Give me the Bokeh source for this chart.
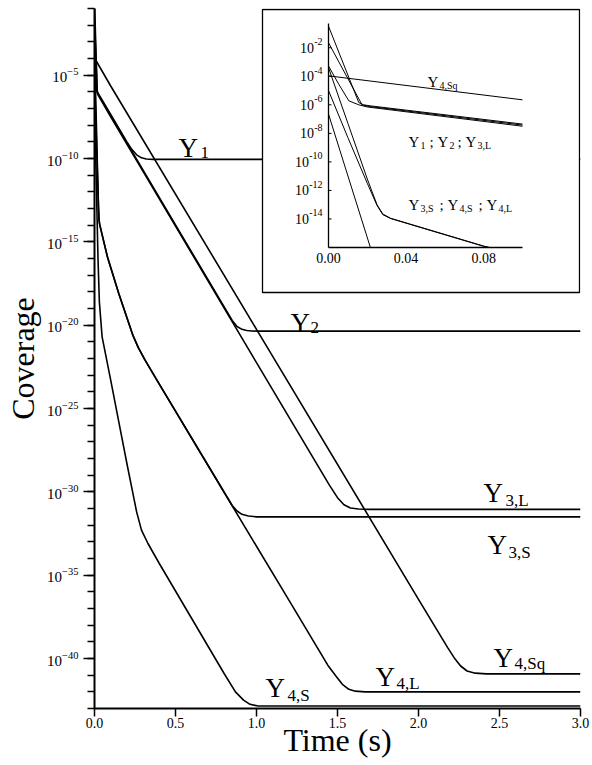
from bokeh.plotting import figure
from bokeh.models import FixedTicker, Label, Range1d, LogScale, LinearScale
from bokeh.embed import file_html
from bokeh.resources import INLINE

SERIF = "Liberation Serif"

# ---------------- data (time in s, log10 of coverage) ----------------
y1_t = [0.0, 0.0156, 0.018, 0.022, 0.1, 0.2, 0.23, 0.26, 0.29, 0.32, 0.36, 3.0]
y1_log = [-0.49, -5.84, -6.0, -6.08, -7.35, -9.0, -9.45, -9.78, -9.96, -10.03, -10.05, -10.05]

y2_t = [0.0, 0.0173, 0.021, 0.025, 0.1, 0.5, 0.85, 0.88, 0.91, 0.94, 0.97, 1.01, 3.0]
y2_log = [-1.65, -6.0, -6.12, -6.18, -7.42, -13.98, -19.72, -20.08, -20.25, -20.32, -20.35, -20.36, -20.36]

y3l_t = [0.0, 0.0053, 0.0105, 0.0156, 0.02, 0.1, 0.5, 1.0, 1.45, 1.5, 1.54, 1.58, 1.63, 1.7, 3.0]
y3l_log = [-3.28, -4.56, -5.72, -6.0, -6.15, -7.5, -14.05, -22.25, -29.6, -30.35, -30.78, -30.97, -31.03, -31.05, -31.05]

y3s_t = [0.0, 0.01, 0.02, 0.025, 0.028, 0.032, 0.08, 0.15, 0.237, 0.27, 0.31, 0.381, 0.6, 0.85, 0.88, 0.91, 0.95, 1.0, 3.0]
y3s_log = [-3.4, -7.3, -11.2, -13.0, -13.65, -13.95, -15.9, -18.1, -20.6, -21.33, -22.05, -23.22, -26.77, -30.82, -31.15, -31.35, -31.45, -31.5, -31.5]

y4l_t = [0.0, 0.01, 0.02, 0.025, 0.028, 0.032, 0.08, 0.15, 0.237, 0.27, 0.31, 0.381, 0.6, 0.85, 1.2, 1.44, 1.49, 1.53, 1.57, 1.61, 1.67, 3.0]
y4l_log = [-5.0, -8.3, -11.5, -13.05, -13.7, -13.97, -15.92, -18.12, -20.62, -21.35, -22.07, -23.24, -26.79, -30.84, -36.5, -40.4, -41.05, -41.55, -41.85, -41.96, -42.0, -42.0]

y4s_t = [0.0, 0.0216, 0.03, 0.047, 0.1, 0.15, 0.2, 0.233, 0.26, 0.29, 0.33, 0.4, 0.6, 0.8, 0.87, 0.92, 0.96, 1.01, 3.0]
y4s_log = [-6.65, -16.0, -18.6, -20.7, -23.3, -25.8, -28.3, -29.9, -31.2, -32.3, -33.1, -34.3, -37.6, -40.9, -42.0, -42.5, -42.75, -42.85, -42.85]

y4sq_t = [0.0, 0.1, 1.0, 2.0, 2.18, 2.22, 2.26, 2.3, 2.35, 2.42, 3.0]
y4sq_log = [-3.97, -5.65, -20.25, -36.45, -39.35, -39.95, -40.45, -40.75, -40.88, -40.92, -40.92]

series = [
    (y1_t, y1_log), (y2_t, y2_log), (y3l_t, y3l_log), (y3s_t, y3s_log),
    (y4l_t, y4l_log), (y4s_t, y4s_log), (y4sq_t, y4sq_log),
]

# ticks
time_ticks = [0.0, 0.5, 1.0, 1.5, 2.0, 2.5, 3.0]
time_tick_labels = ["0.0", "0.5", "1.0", "1.5", "2.0", "2.5", "3.0"]
coverage_major_exps = [-40, -35, -30, -25, -20, -15, -10, -5]
coverage_minor_exps = list(range(-43, 0))

inset_time_ticks = [0.0, 0.04, 0.08]
inset_time_tick_labels = ["0.00", "0.04", "0.08"]
inset_major_exps = [-14, -12, -10, -8, -6, -4, -2]

# axis ranges
T_MAX = 3.0
LOG_MIN, LOG_MAX = -43.0, -1.0
IN_T_MAX = 0.1
IN_LOG_MIN, IN_LOG_MAX = -16.0, -0.3

# curve labels on main plot: subscript, anchor time, anchor log10, sub dx, sub dy
main_label_subs = ["1", "2", "3,L", "3,S", "4,Sq", "4,L", "4,S"]
main_label_t = [0.519, 1.21, 2.401, 2.426, 2.463, 1.735, 1.056]
main_label_log = [-9.34, -19.84, -30.09, -33.21, -39.99, -41.13, -41.79]
main_label_dx = [22, 20, 22, 21, 21, 21, 22]
main_label_dy = [-5, -5, -7, -7, -5, -6, -7]

# ---------------- layout (figure pixels) ----------------
W, H = 592, 765
FL, FR, FT, FB = 94, 580, 8, 708              # main frame edges
IFL, IFR, IFT, IFB = 328, 522, 23, 247        # inset frame edges
BOX_L, BOX_R, BOX_T, BOX_B = 262, 579, 9, 292  # inset box edges


def pow10(vals):
    return [10.0 ** v for v in vals]


def add_parts(fig, x, y, parts, big, small, **kw):
    for text, dx, dy, is_sub in parts:
        fig.add_layout(Label(
            x=x, y=y, x_offset=dx, y_offset=dy, text=text,
            text_font=SERIF, text_font_size=f"{small if is_sub else big}px",
            text_baseline="alphabetic", text_align="left", text_color="black", **kw))


def clip_series(t, lg, tmax, lmin):
    ot, ol = [t[0]], [lg[0]]
    for i in range(1, len(t)):
        t0, l0, t1, l1 = t[i - 1], lg[i - 1], t[i], lg[i]
        if t1 <= tmax and l1 >= lmin:
            ot.append(t1)
            ol.append(l1)
            continue
        f = 1.0
        if t1 > tmax:
            f = min(f, (tmax - t0) / (t1 - t0))
        if l1 < lmin:
            f = min(f, (lmin - l0) / (l1 - l0))
        ot.append(t0 + f * (t1 - t0))
        ol.append(l0 + f * (l1 - l0))
        break
    return ot, ol


# ---------------- main figure ----------------
p = figure(width=W, height=H,
           x_range=Range1d(0.0, T_MAX), y_range=Range1d(10 ** LOG_MIN, 10 ** LOG_MAX),
           y_axis_type="log", output_backend="svg", toolbar_location=None,
           min_border_left=FL, min_border_right=W - FR, min_border_top=FT, min_border_bottom=H - FB)
p.outline_line_color = None
p.grid.visible = False
p.background_fill_color = "white"

for t, lg in series:
    p.line(t, pow10(lg), line_color="black", line_width=1.6)

ya = p.yaxis[0]
ya.ticker = FixedTicker(ticks=pow10(coverage_major_exps), minor_ticks=pow10(coverage_minor_exps))
ya.axis_line_width = 2
ya.major_tick_line_width = 1.5
ya.minor_tick_line_width = 1.5
ya.major_tick_out = 11
ya.major_tick_in = 0
ya.minor_tick_out = 7
ya.minor_tick_in = 0
ya.major_label_standoff = 5
ya.major_label_text_font = SERIF
ya.major_label_text_font_size = "15px"
ya.major_label_text_color = "black"
ya.axis_label = "Coverage"
ya.axis_label_text_font = SERIF
ya.axis_label_text_font_size = "32px"
ya.axis_label_text_font_style = "normal"
ya.axis_label_text_color = "black"
ya.axis_label_standoff = 3

xa = p.xaxis[0]
xa.ticker = FixedTicker(ticks=time_ticks, minor_ticks=[])
xa.major_label_overrides = {v: s for v, s in zip(time_ticks, time_tick_labels)}
xa.axis_line_width = 2
xa.major_tick_line_width = 1.5
xa.major_tick_out = 8
xa.major_tick_in = 0
xa.minor_tick_out = 0
xa.minor_tick_in = 0
xa.major_label_standoff = 1
xa.major_label_text_font = SERIF
xa.major_label_text_font_size = "14px"
xa.major_label_text_color = "black"
xa.axis_label = "Time (s)"
xa.axis_label_text_font = SERIF
xa.axis_label_text_font_size = "32px"
xa.axis_label_text_font_style = "normal"
xa.axis_label_text_color = "black"
xa.axis_label_standoff = -9

for sub, t, lg, dx, dy in zip(main_label_subs, main_label_t, main_label_log, main_label_dx, main_label_dy):
    add_parts(p, t, 10 ** lg, [("Y", 0, 0, False), (sub, dx, dy, True)], 27, 17)

# ---------------- inset (drawn inside the main frame on its own ranges) ----------------
kx = IN_T_MAX / (IFR - IFL)                       # time per pixel
ky = (IN_LOG_MAX - IN_LOG_MIN) / (IFB - IFT)      # decades per pixel
p.extra_x_ranges = {"inx": Range1d((FL - IFL) * kx, (FR - IFL) * kx)}
p.extra_y_ranges = {"iny": Range1d(10 ** (IN_LOG_MIN - (FB - IFB) * ky),
                                   10 ** (IN_LOG_MAX + (IFT - FT) * ky))}
p.extra_x_scales = {"inx": LinearScale()}
p.extra_y_scales = {"iny": LogScale()}
IN = dict(x_range_name="inx", y_range_name="iny")

# white box with black border
p.quad(left=[(BOX_L - IFL) * kx], right=[(BOX_R - IFL) * kx],
       bottom=[10 ** (IN_LOG_MIN - (BOX_B - IFB) * ky)], top=[10 ** (IN_LOG_MAX + (IFT - BOX_T) * ky)],
       fill_color="white", line_color="black", line_width=1.3, **IN)

for t, lg in series:
    ct, cl = clip_series(t, lg, IN_T_MAX, IN_LOG_MIN)
    p.line(ct, pow10(cl), line_color="black", line_width=1.0, **IN)

# inset axes
p.segment(x0=[0.0, 0.0], y0=[10 ** IN_LOG_MIN, 10 ** IN_LOG_MIN],
          x1=[0.0, IN_T_MAX], y1=[10 ** IN_LOG_MAX, 10 ** IN_LOG_MIN],
          line_color="black", line_width=1.3, **IN)
p.segment(x0=[0.0] * len(inset_major_exps), y0=pow10(inset_major_exps),
          x1=[3 * kx] * len(inset_major_exps), y1=pow10(inset_major_exps),
          line_color="black", line_width=1.0, **IN)

for v, s in zip(inset_time_ticks, inset_time_tick_labels):
    p.add_layout(Label(x=v, y=10 ** IN_LOG_MIN, y_offset=-5, text=s, text_align="center",
                       text_baseline="top", text_font=SERIF, text_font_size="14px",
                       text_color="black", **IN))

for e in inset_major_exps:
    es = str(e)
    ew = 3.5 + 5.0 * (len(es) - 1)
    p.add_layout(Label(x=0.0, y=10 ** e, x_offset=-(6 + ew), text="10", text_align="right",
                       text_baseline="middle", text_font=SERIF, text_font_size="14px",
                       text_color="black", **IN))
    p.add_layout(Label(x=0.0, y=10 ** e, x_offset=-6, y_offset=6, text=es, text_align="right",
                       text_baseline="middle", text_font=SERIF, text_font_size="10px",
                       text_color="black", **IN))

add_parts(p, 0.051, 10 ** -4.41, [("Y", 0, 0, False), ("4,Sq", 12, -3, True)], 15, 10, **IN)
add_parts(p, 0.0412, 10 ** -8.62,
          [("Y", 0, 0, False), ("1", 12, -3, True), (";", 21, 0, False),
           ("Y", 29, 0, False), ("2", 41, -3, True), (";", 49, 0, False),
           ("Y", 57, 0, False), ("3,L", 69, -3, True)], 15, 10, **IN)
add_parts(p, 0.0412, 10 ** -13.05,
          [("Y", 0, 0, False), ("3,S", 12, -3, True), (";", 31, 0, False),
           ("Y", 39, 0, False), ("4,S", 51, -3, True), (";", 70, 0, False),
           ("Y", 78, 0, False), ("4,L", 90, -3, True)], 15, 10, **IN)

with open("out.html", "w") as f:
    f.write(file_html(p, INLINE))
